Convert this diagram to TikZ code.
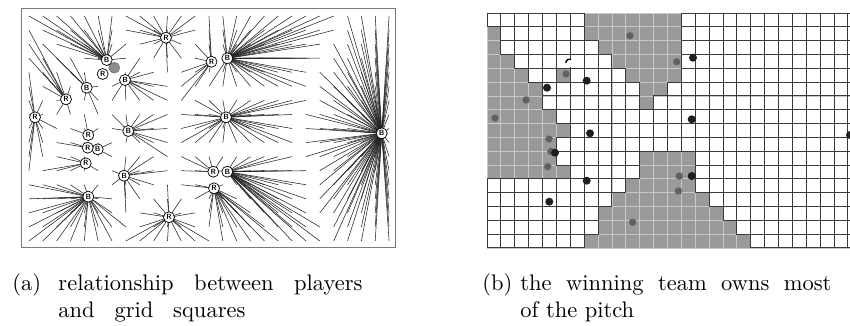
\documentclass[tikz,border=0pt]{standalone}
\definecolor{gcell}{HTML}{9A9A9A}
\definecolor{gline}{HTML}{C8C8C8}
\definecolor{dline}{HTML}{3A3A3A}
\definecolor{framecol}{HTML}{7A7A7A}
\tikzset{
  ray/.style={draw=black!85, line width=0.55pt},
  player/.style={circle, draw=black, line width=0.7pt, fill=white, minimum size=11pt, inner sep=0pt, font=\sffamily\bfseries\fontsize{7.5}{7.5}\selectfont},
  ball/.style={circle, draw=black!60, fill=black!45, minimum size=11pt, inner sep=0pt},
  bdot/.style={circle, fill=black!88, minimum size=8pt, inner sep=0pt},
  rdot/.style={circle, fill=black!62, draw=black!40, line width=0.5pt, minimum size=8pt, inner sep=0pt},
  gcellfill/.style={fill=gcell},
  glinestyle/.style={draw=gline, line width=0.8pt},
  dlinestyle/.style={draw=dline, line width=0.9pt},
  captext/.style={anchor=base west, inner sep=0pt, scale=2.25, font=\fontsize{10}{12}\selectfont},
}
% players of panel (a): name/x/y
\def\Blist{B1/106.7/60, B2/125/80, B3/86.7/87.7, B4/227.3/58.3, B5/226/117.3, B6/128.3/131, B7/97.7/149.3, B8/124/175.7, B9/88.3/196.7, B10/227.3/171.7, B11/381.7/133.3}
\def\Rlist{R1/166/37.7, R2/211.5/61.7, R3/102.7/74, R4/66/99.3, R5/35/117.3, R6/88.3/135, R7/87.7/147.7, R8/85.7/163.3, R9/169/217.3, R10/213.3/171.7, R11/214/188.3}
% grid squares: row/first col/last col
\def\Granges{0/7/13, 1/0/0, 1/7/13, 2/0/0, 2/8/13, 3/0/1, 3/9/13, 4/0/2, 4/5/5, 4/10/13, 5/0/3, 5/11/12, 6/0/3, 6/11/11, 7/0/4, 8/0/5, 9/0/4, 10/0/4, 10/11/14, 11/0/5, 11/11/14, 12/10/14, 13/9/15, 14/8/16, 15/8/17, 16/7/18}
\def\Wranges{0/0/6, 0/14/26, 1/1/6, 1/14/26, 2/1/7, 2/14/26, 3/2/8, 3/14/26, 4/3/4, 4/6/9, 4/14/26, 5/4/10, 5/13/26, 6/4/10, 6/12/26, 7/5/26, 8/6/26, 9/5/26, 10/5/10, 10/15/26, 11/6/10, 11/15/26, 12/0/9, 12/15/26, 13/0/8, 13/16/26, 14/0/7, 14/17/26, 15/0/7, 15/18/26, 16/0/6, 16/19/26}
\newcommand\myrays[2]{%
  \foreach \jr/\ka/\kb in #1 {%
    \foreach \kk in {\ka,...,\kb} {%
      \pgfmathsetmacro\ccx{22+13.852*(\kk+0.5)}%
      \pgfmathsetmacro\ccy{9+14.06*(\jr+0.5)}%
      \gdef\bestd{9999}%
      \foreach \pn/\px/\py in #2 {%
        \pgfmathsetmacro\dd{veclen(\px-\ccx,\py-\ccy)}%
        \pgfmathparse{(\dd<\bestd)?1:0}%
        \ifnum\pgfmathresult=1 \xdef\bestd{\dd}\xdef\bestn{\pn}\fi
      }%
      \draw[ray] (\bestn) -- (\ccx,\ccy);
    }%
  }%
}
\begin{document}
\begin{tikzpicture}[x=1pt,y=-1pt]
\useasboundingbox (0,0) rectangle (850,325);
\fill[white] (0,0) rectangle (850,325);
% ---------- panel (a) ----------
\foreach \pn/\px/\py in \Blist {\coordinate (\pn) at (\px,\py);}
\foreach \pn/\px/\py in \Rlist {\coordinate (\pn) at (\px,\py);}
\myrays{\Wranges}{\Blist}
\myrays{\Granges}{\Rlist}
\draw[draw=framecol, line width=1.6pt] (21.5,8.5) rectangle (395.5,247.5);
\node[ball] (ball) at (114.3,67.7) {};
\foreach \pn/\px/\py in \Blist {\node[player] (n\pn) at (\pn) {B};}
\foreach \pn/\px/\py in \Rlist {\node[player] (n\pn) at (\pn) {R};}
% ---------- panel (b) ----------
\begin{scope}
\clip (470,0) rectangle (850,325);
\foreach \jr/\ka/\kb in \Granges {\fill[gcellfill] (487+13.88*\ka,13+13.82*\jr) rectangle (487+13.88*\kb+13.88,13+13.82*\jr+13.82);}
\foreach \i in {0,...,27} {\draw[glinestyle] (487+13.88*\i,13) -- (487+13.88*\i,13+13.82*17);}
\foreach \j in {0,...,17} {\draw[glinestyle] (487,13+13.82*\j) -- (487+13.88*27,13+13.82*\j);}
\foreach \jr/\ka/\kb in \Wranges {\foreach \kk in {\ka,...,\kb} {\draw[dlinestyle] (487+13.88*\kk,13+13.82*\jr) rectangle ++(13.88,13.82);}}
\foreach \pn/\px/\py in {q1/630/35.7, q2/566/74, q3/526/100, q4/495/118, q5/676.7/61.7, q6/549/139, q7/551/151.5, q8/547.7/166.7, q9/632.7/222.3, q10/679.3/176, q11/678.3/191}
  {\node[rdot] (\pn) at (\px,\py) {};}
\foreach \pn/\px/\py in {k2/586.7/80.7, k3/547/87.7, k4/590/133.3, k5/693/57.7, k6/691.7/119.3, k7/555/152.7, k8/586.7/180.7, k9/549.3/201.7, k10/691.7/176, k11/850/135}
  {\node[bdot] (\pn) at (\px,\py) {};}
\node[circle, fill=white, minimum size=8pt, inner sep=0pt] (k1) at (570,63) {};
\draw[line width=1.3pt] (k1.west) arc[start angle=180, end angle=290, radius=4];
\end{scope}
% ---------- captions ----------
\node[captext] (ca) at (12,290) {(a)};
\node[captext] (ca1) at (58,290) {\makebox[135.1pt][s]{relationship between players}};
\node[captext] (ca2) at (58,317) {\makebox[83.1pt][s]{and grid squares}};
\node[captext] (cb) at (482,290) {(b)};
\node[captext] (cb1) at (520,290) {\makebox[138.2pt][s]{the winning team owns most}};
\node[captext] (cb2) at (520,317) {of the pitch};
\end{tikzpicture}
\end{document}
